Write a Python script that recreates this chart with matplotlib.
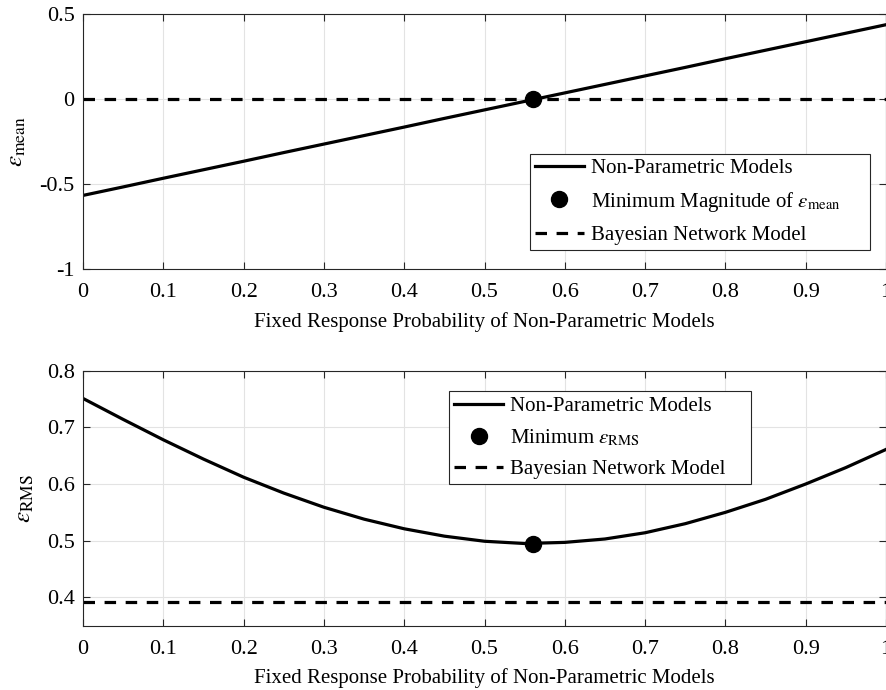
import numpy as np
import matplotlib
matplotlib.use("Agg")
import matplotlib.pyplot as plt
from matplotlib.offsetbox import DrawingArea

plt.rcParams["font.family"] = ["Liberation Serif", "DejaVu Serif"]
plt.rcParams["mathtext.fontset"] = "stix"
plt.rcParams["axes.unicode_minus"] = False

# ── Data ──────────────────────────────────────────────────────────────
p = [0.00, 0.05, 0.10, 0.15, 0.20, 0.25, 0.30, 0.35, 0.40, 0.45, 0.50,
     0.55, 0.60, 0.65, 0.70, 0.75, 0.80, 0.85, 0.90, 0.95, 1.00]

eps_mean = [-0.567, -0.517, -0.466, -0.416, -0.366, -0.315, -0.265, -0.215,
            -0.165, -0.114, -0.064, -0.014, 0.036, 0.086, 0.136, 0.186,
            0.237, 0.287, 0.337, 0.387, 0.437]

eps_rms = [0.751, 0.714, 0.678, 0.644, 0.612, 0.584, 0.559, 0.538, 0.521,
           0.508, 0.499, 0.495, 0.497, 0.503, 0.514, 0.530, 0.550, 0.573,
           0.600, 0.629, 0.661]

best_p = 0.56
best_mean = 0.0
best_rms = 0.495

bn_mean = 0.0
bn_rms = 0.391

xticks = [0, 0.1, 0.2, 0.3, 0.4, 0.5, 0.6, 0.7, 0.8, 0.9, 1]
xticklabels = ["0", "0.1", "0.2", "0.3", "0.4", "0.5", "0.6", "0.7", "0.8", "0.9", "1"]
yticks_top = [-1, -0.5, 0, 0.5]
yticklabels_top = ["-1", "-0.5", "0", "0.5"]
yticks_bot = [0.4, 0.5, 0.6, 0.7, 0.8]
yticklabels_bot = ["0.4", "0.5", "0.6", "0.7", "0.8"]

xlabel = "Fixed Response Probability of Non-Parametric Models"

# ── Figure ────────────────────────────────────────────────────────────
fig = plt.figure(figsize=(8.86, 6.90), dpi=100)
ax1 = fig.add_axes([0.0937, 0.6101, 0.9063, 0.3696])
ax2 = fig.add_axes([0.0937, 0.0932, 0.9063, 0.3696])

fs = 16
lw = 2.3
dash = (3.6, 3.0)


def style(ax):
    ax.grid(True, color="#e3e3e3", linewidth=0.8)
    ax.set_axisbelow(True)
    ax.tick_params(direction="in", top=True, right=True, length=5,
                   width=0.8, color="#262626", labelsize=fs)
    ax.tick_params(axis="x", pad=10)
    ax.tick_params(axis="y", pad=6)
    for s in ax.spines.values():
        s.set_color("#262626")
        s.set_linewidth(0.8)
    ax.set_xlim(0, 1)
    ax.set_xticks(xticks)
    ax.set_xticklabels(xticklabels)
    ax.set_xlabel(xlabel, fontsize=15, labelpad=7)


def pad_right(leg, extra):
    # MATLAB-style legends leave extra room right of the labels
    for col in leg._legend_handle_box.get_children():
        for row in col.get_children():
            row.get_children().append(DrawingArea(extra, 1))
    leg.get_frame().set_linewidth(0.8)


leg_kw = dict(fontsize=15, frameon=True, fancybox=False, framealpha=1,
              edgecolor="#262626", handlelength=2.35, labelspacing=0.55,
              borderpad=0.25, handletextpad=0.35, borderaxespad=0)

# ── Top: mean error ───────────────────────────────────────────────────
ax1.plot(p, eps_mean, color="black", linewidth=lw, label="Non-Parametric Models")
ax1.plot([best_p], [best_mean], "o", color="black", markersize=11.5,
         label=r"Minimum Magnitude of $\epsilon_{\mathrm{mean}}$")
ax1.axhline(bn_mean, color="black", linewidth=lw, dashes=dash,
            label="Bayesian Network Model")
style(ax1)
ax1.set_ylim(-1, 0.5)
ax1.set_yticks(yticks_top)
ax1.set_yticklabels(yticklabels_top)
ax1.set_ylabel(r"$\epsilon_{\mathrm{mean}}$", fontsize=18, labelpad=8)
leg1 = ax1.legend(loc="lower right", bbox_to_anchor=(0.980, 0.0745), **leg_kw)
pad_right(leg1, 12)

# ── Bottom: RMS error ─────────────────────────────────────────────────
ax2.plot(p, eps_rms, color="black", linewidth=lw, label="Non-Parametric Models")
ax2.plot([best_p], [best_rms], "o", color="black", markersize=11.5,
         label=r"Minimum $\epsilon_{\mathrm{RMS}}$")
ax2.axhline(bn_rms, color="black", linewidth=lw, dashes=dash,
            label="Bayesian Network Model")
style(ax2)
ax2.set_ylim(0.35, 0.8)
ax2.set_yticks(yticks_bot)
ax2.set_yticklabels(yticklabels_bot)
ax2.set_ylabel(r"$\epsilon_{\mathrm{RMS}}$", fontsize=18, labelpad=8)
leg2 = ax2.legend(loc="upper left", bbox_to_anchor=(0.4558, 0.920), **leg_kw)
pad_right(leg2, 9)

fig.savefig("out.png", dpi=100)
